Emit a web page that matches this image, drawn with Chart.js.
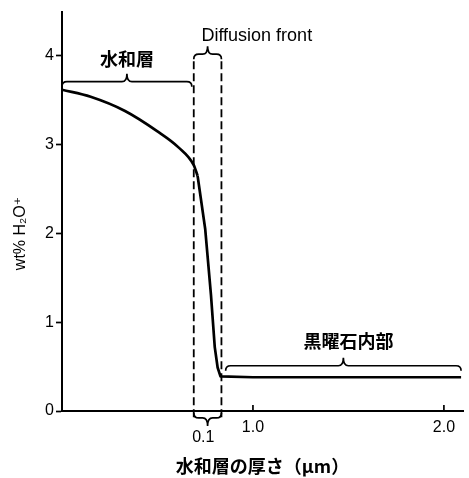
<!DOCTYPE html>
<html>
<head>
<meta charset="utf-8">
<script src="https://cdn.jsdelivr.net/npm/chart.js@4"></script>
<style>
	body{margin:0;background:#fff;}
	#wrap{width:469px;height:478px;position:relative;}
</style>
</head>
<body>
<div id="wrap"><canvas id="profile-chart"></canvas></div>
<script>
'use strict';

// depth (µm) and water content
const depthUm = [0, 0.15, 0.33, 0.50, 0.61, 0.69, 0.71, 0.75, 0.78, 0.80, 0.815, 0.83, 1.0, 2.09];
const waterWt = [3.62, 3.54, 3.38, 3.15, 2.97, 2.77, 2.65, 2.05, 1.31, 0.72, 0.49, 0.39, 0.38, 0.38];
const kinkIndex = 6; // smooth curve up to here, straight drop after

// edges of the diffusion front (dashed box)
const frontEdges = [0.69, 0.835];
const frontSpan = [-0.07, 3.96];

const yTicks = [0, 1, 2, 3, 4];
const xTicks = [1.0, 2.0];

const jpFont = '"Noto Sans CJK JP", "Noto Sans CJK SC", sans-serif';
const latinFont = '"Liberation Sans", "DejaVu Sans", sans-serif';

// braces: x range and base level in data units, dir -1 = tip up
const braces = [
	{x0: 0, x1: 0.68, y: 3.71, dir: -1},
	{x0: 0.69, x1: 0.835, y: 4.02, dir: -1},
	{x0: 0.69, x1: 0.835, y: -0.078, dir: 1},
	{x0: 0.857, x1: 2.09, y: 0.51, dir: -1}
];
const notes = [
	{text: '水和層', x: 0.34, y: 3.96, font: 'bold 18px ' + jpFont},
	{text: 'Diffusion front', x: 1.02, y: 4.23, font: '18px ' + latinFont},
	{text: '黒曜石内部', x: 1.50, y: 0.79, font: 'bold 18px ' + jpFont},
	{text: '0.1', x: 0.74, y: -0.295, font: '16px ' + latinFont}
];
const yTitle = 'wt% H₂O⁺';

function drawBrace(ctx, a, b, y, dir){
	const r = 5, tip = 8;
	const mid = (a + b) / 2;
	ctx.beginPath();
	ctx.moveTo(a, y - dir * r);
	ctx.quadraticCurveTo(a, y, a + r, y);
	ctx.lineTo(mid - r, y);
	ctx.quadraticCurveTo(mid, y, mid, y + dir * tip);
	ctx.moveTo(mid, y + dir * tip);
	ctx.quadraticCurveTo(mid, y, mid + r, y);
	ctx.lineTo(b - r, y);
	ctx.quadraticCurveTo(b, y, b, y - dir * r);
	ctx.stroke();
}

const notesPlugin = {
	id: 'notes',
	afterDraw(chart){
		const {ctx, scales: {x, y}} = chart;
		ctx.save();
		ctx.strokeStyle = '#000';
		ctx.lineWidth = 1.7;
		// inward ticks on the x axis
		x.ticks.forEach(t => {
			const px = x.getPixelForValue(t.value);
			ctx.beginPath();
			ctx.moveTo(px, y.bottom);
			ctx.lineTo(px, y.bottom - 6);
			ctx.stroke();
		});
		braces.forEach(br => {
			drawBrace(ctx, x.getPixelForValue(br.x0), x.getPixelForValue(br.x1), y.getPixelForValue(br.y), br.dir);
		});
		ctx.fillStyle = '#000';
		ctx.textAlign = 'center';
		ctx.textBaseline = 'middle';
		notes.forEach(n => {
			ctx.font = n.font;
			ctx.fillText(n.text, x.getPixelForValue(n.x), y.getPixelForValue(n.y));
		});
		// y axis title, a little below the axis middle as in the original
		ctx.translate(21, y.getPixelForValue(2.0));
		ctx.rotate(-Math.PI / 2);
		ctx.font = '16px ' + latinFont;
		ctx.fillText(yTitle, 0, 0);
		ctx.restore();
	}
};

const profile = depthUm.map((d, i) => ({x: d, y: waterWt[i]}));
const dashed = frontEdges.map(e => ({
	data: frontSpan.map(v => ({x: e, y: v})),
	borderColor: '#000',
	borderWidth: 1.8,
	borderDash: [8, 4],
	pointRadius: 0,
	clip: false
}));

new Chart(document.getElementById('profile-chart'), {
	type: 'line',
	data: {
		datasets: [{
			data: profile.slice(0, kinkIndex + 1),
			borderColor: '#000',
			borderWidth: 2.7,
			pointRadius: 0,
			cubicInterpolationMode: 'monotone'
		}, {
			data: profile.slice(kinkIndex),
			borderColor: '#000',
			borderWidth: 2.7,
			borderJoinStyle: 'round',
			pointRadius: 0,
			tension: 0
		}, ...dashed]
	},
	options: {
		animation: false,
		responsive: true,
		maintainAspectRatio: false,
		layout: {padding: {top: 7, right: 6, left: 0, bottom: 0}},
		plugins: {legend: {display: false}, tooltip: {enabled: false}},
		scales: {
			x: {
				type: 'linear',
				min: 0,
				max: 2.1,
				afterFit(s){ s.height = 67; },
				afterBuildTicks(s){ s.ticks = xTicks.map(v => ({value: v})); },
				grid: {display: false, drawTicks: false},
				border: {color: '#000', width: 2},
				ticks: {
					color: '#000',
					padding: 7,
					maxRotation: 0,
					font: {family: latinFont, size: 16},
					callback: v => v.toFixed(1)
				},
				title: {
					display: true,
					text: '水和層の厚さ（μm）',
					color: '#000',
					font: {family: jpFont, size: 18, weight: 'bold'},
					padding: {top: 0, bottom: 1}
				}
			},
			y: {
				min: 0,
				max: 4.5,
				afterFit(s){ s.width = 62; },
				afterBuildTicks(s){ s.ticks = yTicks.map(v => ({value: v})); },
				grid: {drawOnChartArea: false, drawTicks: true, tickLength: 6, tickWidth: 1.7, tickColor: '#000'},
				border: {color: '#000', width: 2},
				ticks: {
					color: '#000',
					padding: 2,
					font: {family: latinFont, size: 16}
				}
			}
		}
	},
	plugins: [notesPlugin]
});
</script>
</body>
</html>
